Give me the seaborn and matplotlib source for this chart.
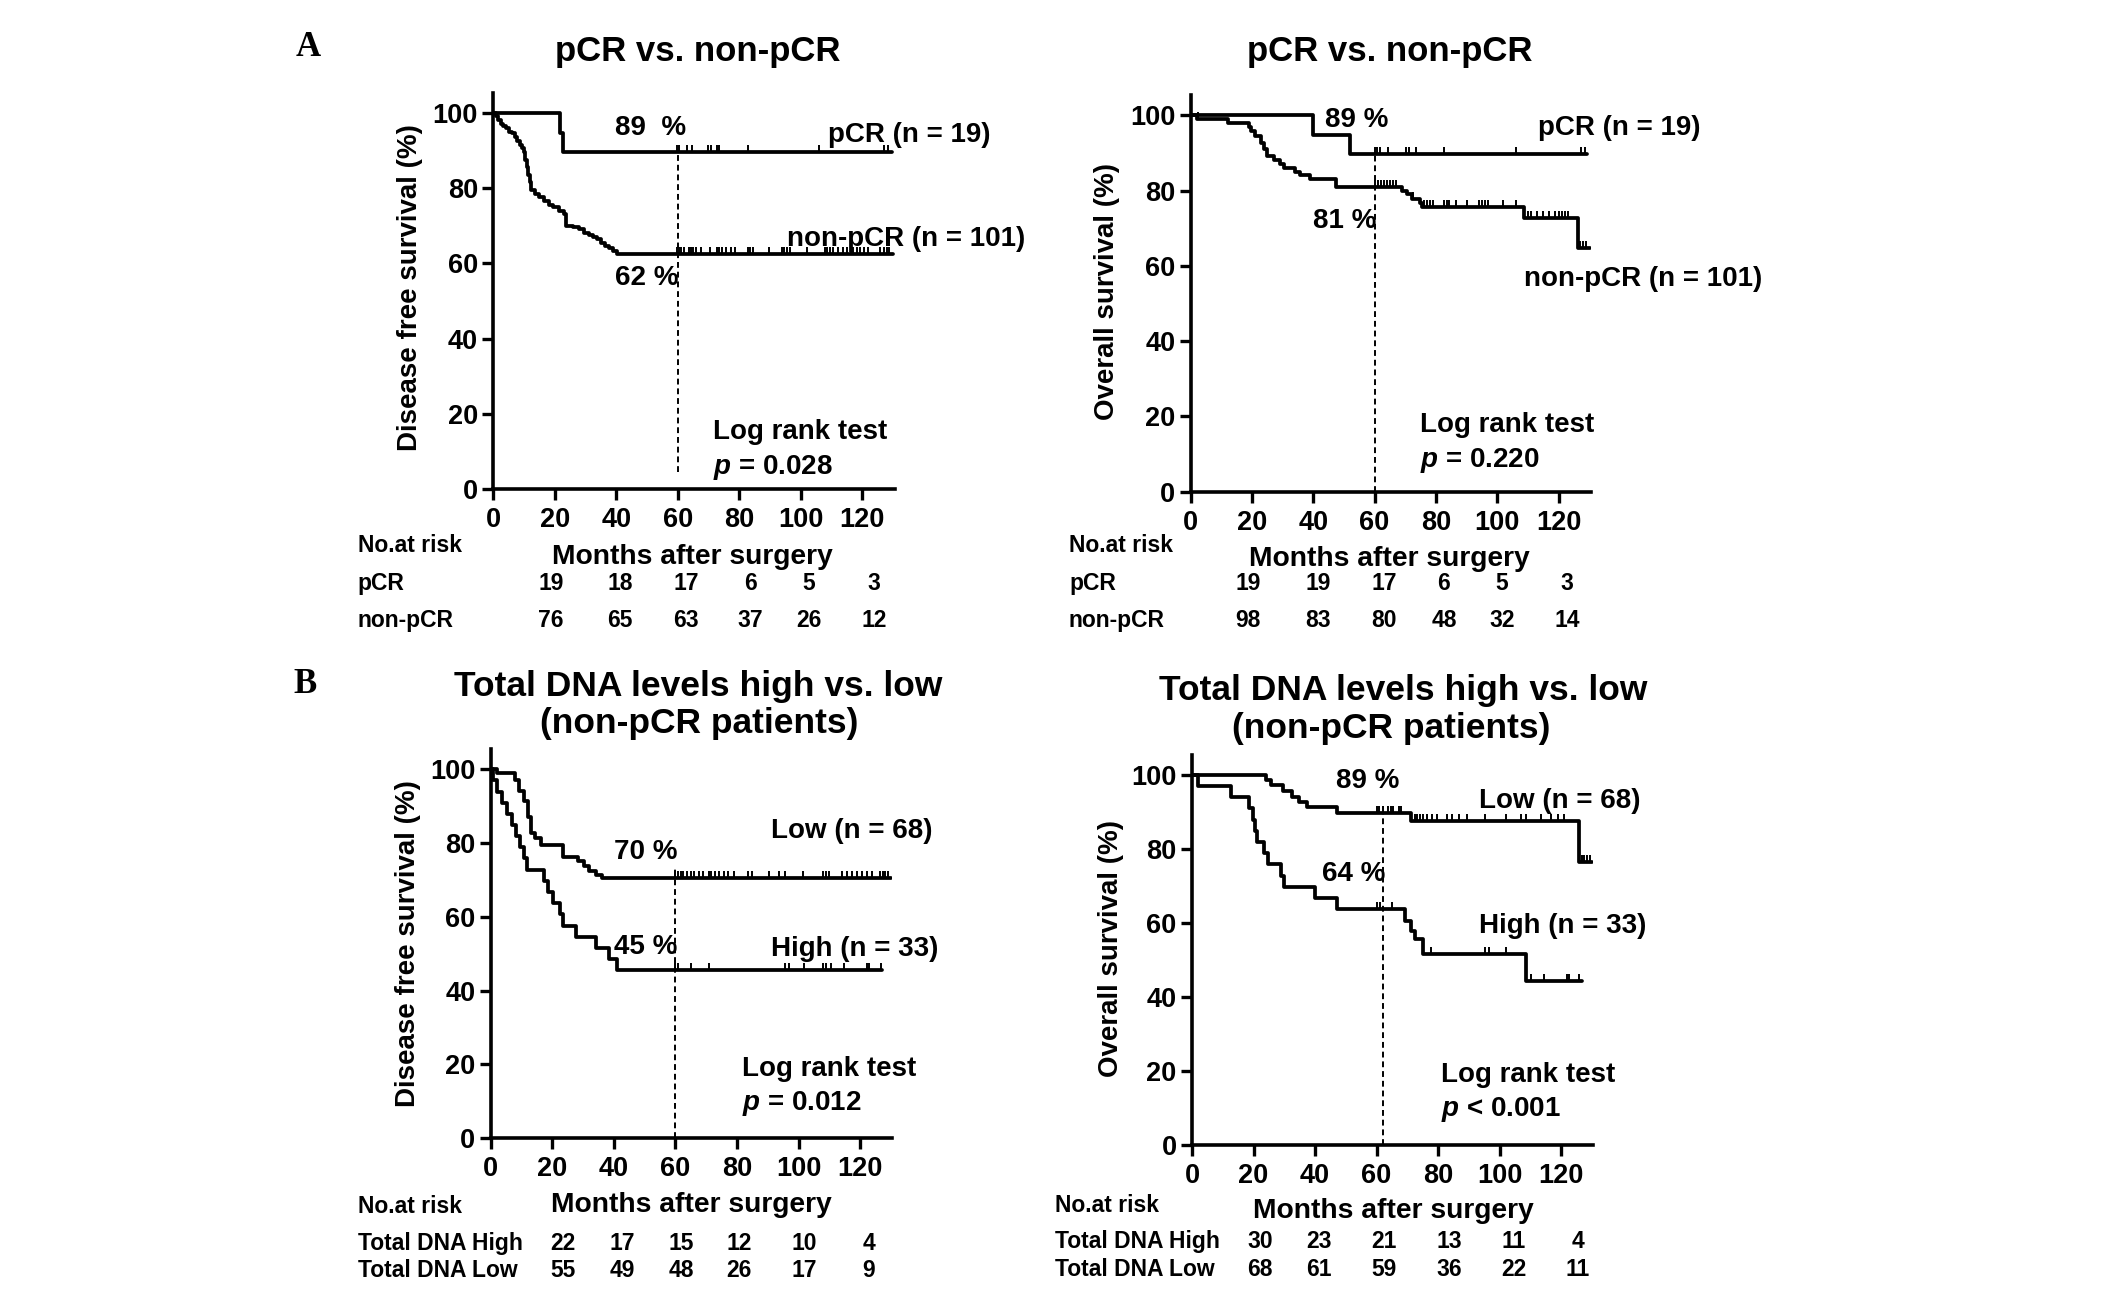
import numpy as np
import pandas as pd
import matplotlib
matplotlib.use("Agg")
import matplotlib.pyplot as plt
import seaborn as sns
from matplotlib.path import Path

# ---------------- data ----------------
# A, disease free survival
dfs_pcr_t = [0, 21.7, 22.6, 129.5]
dfs_pcr_s = [100, 94.7, 89.5, 89.5]
dfs_pcr_cens = [59.6, 60.4, 63.1, 64.7, 69.9, 70.7, 72.6, 73.5, 82.9, 106, 127, 128.5]

dfs_non_t = [0, 0.8, 1.6, 2.4, 3.2, 4.2, 5.2, 6.2, 7.0, 7.8, 8.6, 9.4, 9.9, 10.3, 10.8,
             11.3, 11.8, 12.4, 13.5, 15, 16.5, 18, 19.5, 21.5, 23, 23.5, 26, 28, 29.5,
             31, 32.5, 33.6, 35, 36.3, 37.5, 38.8, 40.1, 130]
dfs_non_s = [100, 99, 98, 97, 96.5, 96, 95, 94.5, 93.6, 92.5, 91.5, 90.5, 89.6, 87.5, 85.5,
             83.5, 81.5, 79.4, 78.5, 77.5, 76.5, 75.5, 75, 74, 73, 70, 69.6, 69, 68,
             67.5, 67, 66.5, 65.5, 64.7, 64, 63.3, 62.5, 62.5]
dfs_non_cens = [59.9, 60.5, 61.0, 62.0, 63.6, 64.3, 65.0, 65.8, 67.4, 70.5, 72.8, 73.5, 74.3,
                75.7, 77.2, 78.6, 82.7, 83.5, 84.3, 89.8, 93.8, 94.5, 95.4, 96.5, 101.9,
                107.9, 108.6, 109.5, 110.4, 112.2, 113.8, 114.9, 116.2, 116.9, 118.2, 119.3,
                120.4, 122.0, 125.8, 126.9, 128.0, 128.8]

# A, overall survival
os_pcr_t = [0, 39.8, 51.9, 129.3]
os_pcr_s = [100, 94.8, 89.6, 89.6]
os_pcr_cens = [60.1, 60.9, 61.8, 64.4, 70.1, 71.1, 73.4, 82.7, 106.0, 127.2, 128.5]

os_non_t = [0, 2, 12.3, 19, 19.8, 21, 23.1, 24, 24.8, 27.3, 29, 30.6, 34, 35.6, 39, 47.3,
            68.9, 70.6, 72.2, 74.7, 75.6, 108.9, 126.3, 130.3]
os_non_s = [100, 98.9, 97.9, 96.9, 95.7, 94.4, 92.6, 91, 89.3, 88.2, 87.1, 86, 85, 84, 83, 81,
            80, 79, 77.8, 76.7, 75.6, 72.6, 64.6, 64.6]
os_non_cens = [2.5, 60, 61, 62, 63, 64, 65, 66, 67, 72.7, 76, 77, 78, 79, 82.7, 83.6, 84.4,
               86.4, 90.2, 94.2, 95, 96, 96.9, 101.9, 106, 110, 111, 113, 115, 117, 119,
               120, 121, 122, 123, 127, 128, 129]

# B, disease free survival (non-pCR patients)
dfs_low_t = [0, 2, 7.8, 9.1, 10.8, 12, 13, 14.3, 16.3, 23.5, 28.5, 30.2, 31.8, 34.3, 36, 130]
dfs_low_s = [100, 98.8, 96.9, 94.1, 91.4, 87, 82.6, 81.3, 79.5, 76.3, 75, 73.7, 72.4, 71.3,
             70.5, 70.5]
dfs_low_cens = [60, 60.8, 61.7, 62.5, 63.7, 65, 66.1, 67.8, 69.1, 70.8, 71.6, 73, 74.1, 75.8,
                77.1, 79.1, 83.7, 84.9, 90.3, 93.7, 95.7, 101.5, 108.1, 109, 109.8, 114,
                115.7, 117.3, 119, 120.6, 122.3, 124, 126.5, 127.3, 128.1, 129]

dfs_high_t = [0, 0.7, 2, 3.6, 5.3, 7, 8.3, 9.4, 10.8, 11.8, 17.4, 18.6, 20.2, 22.4, 23.5,
              27.7, 34.3, 38.5, 40.9, 127.1]
dfs_high_s = [100, 96.9, 93.9, 90.8, 87.9, 84.8, 81.8, 78.8, 75.8, 72.7, 69.7, 66.7, 63.6,
              60.6, 57.6, 54.5, 51.5, 48.5, 45.5, 45.5]
dfs_high_cens = [60, 60.8, 65, 70.8, 95.6, 97, 101.9, 108.1, 108.9, 110.6, 114.7, 122.2,
                 123, 126.8]

# B, overall survival (non-pCR patients)
os_low_t = [0, 24.2, 25.8, 29.6, 32.4, 34.9, 37.4, 47.3, 71.3, 126, 130]
os_low_s = [100, 98.5, 97.1, 95.6, 94.1, 92.6, 91.2, 89.7, 87.5, 76.5, 76.5]
os_low_cens = [60.1, 60.9, 62.2, 63.9, 64.7, 65.5, 67.2, 68, 72.5, 73.3, 74.2, 75, 76.5, 78,
               79.6, 82.9, 84.5, 86.9, 89.5, 95.3, 102, 106.9, 108.6, 113.5, 116.8, 119,
               121, 126.8, 127.6, 128.5, 129.3]

os_high_t = [0, 1.8, 12.6, 18.4, 19.7, 20.5, 21, 23.3, 24.7, 29.1, 30, 39.9, 47.3, 69.3,
             71.3, 72.5, 75, 108.6, 126.8]
os_high_s = [100, 97, 93.9, 90.9, 87.9, 84.8, 81.8, 78.8, 75.8, 72.7, 69.7, 66.7, 63.6,
             60.4, 57.9, 55.5, 51.7, 44.3, 44.3]
os_high_cens = [60.1, 61.1, 65, 77.6, 95.3, 96.7, 102, 110.2, 114.4, 121.8, 122.6, 126]

# numbers at risk
risk_dfs_pcr = [19, 18, 17, 6, 5, 3]
risk_dfs_non = [76, 65, 63, 37, 26, 12]
risk_os_pcr = [19, 19, 17, 6, 5, 3]
risk_os_non = [98, 83, 80, 48, 32, 14]
risk_dfs_high = [22, 17, 15, 12, 10, 4]
risk_dfs_low = [55, 49, 48, 26, 17, 9]
risk_os_high = [30, 23, 21, 13, 11, 4]
risk_os_low = [68, 61, 59, 36, 22, 11]

# ---------------- style ----------------
sns.set_theme(style="ticks", rc={"axes.edgecolor": "black", "xtick.color": "black",
                                 "ytick.color": "black", "text.color": "black",
                                 "axes.labelcolor": "black"})
plt.rcParams["font.family"] = ["Liberation Sans", "DejaVu Sans"]
plt.rcParams["font.weight"] = "bold"
plt.rcParams["mathtext.fontset"] = "custom"
plt.rcParams["mathtext.it"] = "Liberation Sans:italic:bold"
plt.rcParams["mathtext.rm"] = "Liberation Sans:bold"

W, H = 2126, 1289
fig = plt.figure(figsize=(W / 100, H / 100), dpi=100)
fig.patch.set_facecolor("white")

def fx(px):
    return px / W

def fy(py):
    return 1 - py / H

XMAX, YMAX = 130.5, 105.3
TICK = Path([(0, 0), (0, 1)], [Path.MOVETO, Path.LINETO])
RISK_FS = 16.5
TITLE_FS = 25


def km(ax, t, s, cens):
    df = pd.DataFrame({"t": t, "s": s})
    sns.lineplot(data=df, x="t", y="s", drawstyle="steps-post", estimator=None, sort=False,
                 color="black", linewidth=2.7, ax=ax)
    idx = np.searchsorted(t, cens, side="right") - 1
    cy = np.asarray(s)[idx]
    sns.scatterplot(x=cens, y=cy, marker=TICK, s=110, color="black", edgecolor="black",
                    linewidth=1.4, ax=ax, zorder=3)


def panel(origin, scale, curves, landmark, notes, ylabel, ylab_pos):
    x0, y0 = origin
    sx, sy = scale
    ax = fig.add_axes([fx(x0), fy(y0), XMAX * sx / W, YMAX * sy / H])
    for t, s, c in curves:
        km(ax, t, s, c)
    lx, lo, hi = landmark
    ax.vlines(lx, lo, hi, colors="black", linestyles=(0, (3, 2)), linewidth=1.4)
    for x, y, txt in notes:
        ax.text(x, y, txt, fontsize=20, fontweight="bold", ha="left", va="baseline")
    ax.set_xlim(0, XMAX)
    ax.set_ylim(0, YMAX)
    ax.set_xticks(range(0, 121, 20))
    ax.set_yticks(range(0, 101, 20))
    ax.tick_params(direction="out", length=8, width=2.4, labelsize=19.5)
    ax.tick_params(axis="x", pad=5)
    ax.tick_params(axis="y", pad=3)
    ax.set_xlabel("")
    ax.set_ylabel("")
    sns.despine(ax=ax)
    for sp in ("left", "bottom"):
        ax.spines[sp].set_linewidth(2.6)
    fig.text(fx(ylab_pos[0]), fy(ylab_pos[1]), ylabel, rotation=90, fontsize=20,
             ha="center", va="center")
    return ax


def risk_table(label_x, base_y, col_x, rows):
    fig.text(fx(label_x), fy(base_y[0]), "No.at risk", fontsize=RISK_FS, ha="left",
             va="baseline")
    for (name, vals), by in zip(rows, base_y[1:]):
        fig.text(fx(label_x), fy(by), name, fontsize=RISK_FS, ha="left", va="baseline")
        for cx, v in zip(col_x, vals):
            fig.text(fx(cx), fy(by), str(v), fontsize=RISK_FS, ha="center", va="baseline")


# ---------------- panel A, left ----------------
panel((493.3, 489.3), (3.075, 3.766),
      [(dfs_pcr_t, dfs_pcr_s, dfs_pcr_cens), (dfs_non_t, dfs_non_s, dfs_non_cens)],
      (60, 4.6, 89.5),
      [(39.5, 94, "89  %"), (108.7, 92.3, "pCR (n = 19)"), (95.6, 64.7, "non-pCR (n = 101)"),
       (39.5, 54.2, "62 %"), (71.5, 13.4, "Log rank test"), (71.5, 4.1, "$p$ = 0.028")],
      "Disease free survival (%)", (410, 288))
fig.text(fx(697.5), fy(61), "pCR vs. non-pCR", fontsize=TITLE_FS, ha="center", va="baseline")
fig.text(fx(692), fy(563.5), "Months after surgery", fontsize=20.3, ha="center",
         va="baseline")
risk_table(357.6, (552.3, 589.6, 626.8), [551, 620, 686, 750, 809, 874],
           [("pCR", risk_dfs_pcr), ("non-pCR", risk_dfs_non)])

# ---------------- panel A, right ----------------
panel((1190.6, 491.5), (3.066, 3.762),
      [(os_pcr_t, os_pcr_s, os_pcr_cens), (os_non_t, os_non_s, os_non_cens)],
      (60, 0, 89.6),
      [(43.9, 97, "89 %"), (113.3, 94.8, "pCR (n = 19)"), (39.8, 70.1, "81 %"),
       (108.9, 54.7, "non-pCR (n = 101)"), (74.7, 15.7, "Log rank test"),
       (74.7, 6.4, "$p$ = 0.220")],
      "Overall survival (%)", (1107.5, 292))
fig.text(fx(1389.4), fy(61), "pCR vs. non-pCR", fontsize=TITLE_FS, ha="center", va="baseline")
fig.text(fx(1389), fy(566), "Months after surgery", fontsize=20.3, ha="center", va="baseline")
risk_table(1069, (552.3, 589.6, 626.8), [1248, 1318, 1384, 1444, 1502, 1567],
           [("pCR", risk_os_pcr), ("non-pCR", risk_os_non)])

# ---------------- panel B, left ----------------
panel((490.7, 1138.2), (3.078, 3.692),
      [(dfs_low_t, dfs_low_s, dfs_low_cens), (dfs_high_t, dfs_high_s, dfs_high_cens)],
      (60, 0, 73),
      [(91, 81.2, "Low (n = 68)"), (40.1, 75.7, "70 %"), (40.1, 50, "45 %"),
       (91, 49.4, "High (n = 33)"), (81.5, 16.9, "Log rank test"), (81.5, 7.7, "$p$ = 0.012")],
      "Disease free survival (%)", (407.7, 943.4))
fig.text(fx(697.8), fy(695.6), "Total DNA levels high vs. low", fontsize=TITLE_FS + 0.5,
         ha="center", va="baseline")
fig.text(fx(698.8), fy(733.5), "(non-pCR patients)", fontsize=TITLE_FS + 0.5, ha="center",
         va="baseline")
fig.text(fx(691), fy(1212), "Months after surgery", fontsize=20.3, ha="center", va="baseline")
risk_table(357.6, (1213.2, 1250, 1277), [563, 622, 681, 739, 804, 869],
           [("Total DNA High", risk_dfs_high), ("Total DNA Low", risk_dfs_low)])

# ---------------- panel B, right ----------------
panel((1192, 1145), (3.075, 3.703),
      [(os_low_t, os_low_s, os_low_cens), (os_high_t, os_high_s, os_high_cens)],
      (62, 0, 89.7),
      [(46.8, 96.5, "89 %"), (93.2, 91, "Low (n = 68)"), (42.4, 71.2, "64 %"),
       (93.2, 57.2, "High (n = 33)"), (80.9, 17.1, "Log rank test"),
       (80.9, 7.7, "$p$ < 0.001")],
      "Overall survival (%)", (1111, 948.3))
fig.text(fx(1403), fy(699.7), "Total DNA levels high vs. low", fontsize=TITLE_FS + 0.5,
         ha="center", va="baseline")
fig.text(fx(1391), fy(737.6), "(non-pCR patients)", fontsize=TITLE_FS + 0.5, ha="center",
         va="baseline")
fig.text(fx(1393), fy(1218.5), "Months after surgery", fontsize=20.3, ha="center",
         va="baseline")
risk_table(1055, (1211.7, 1248.3, 1276), [1260, 1319, 1384, 1449, 1514, 1578],
           [("Total DNA High", risk_os_high), ("Total DNA Low", risk_os_low)])

# panel letters
fig.text(fx(308), fy(47.6), "A", family="Liberation Serif", fontsize=25, fontweight="bold",
         ha="center", va="center")
fig.text(fx(305.5), fy(684.6), "B", family="Liberation Serif", fontsize=25, fontweight="bold",
         ha="center", va="center")

fig.savefig("out.png", dpi=100, facecolor="white")
